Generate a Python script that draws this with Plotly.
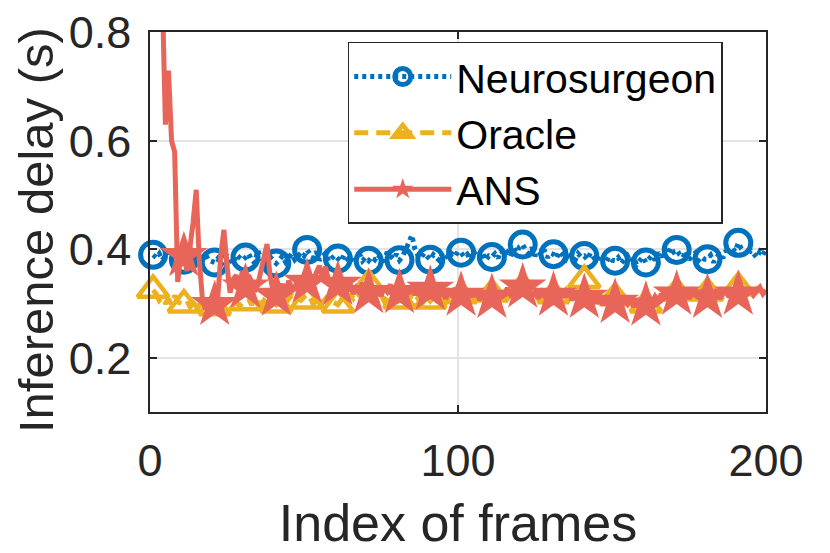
import plotly.graph_objects as go

frames = list(range(1, 201))

neurosurgeon = [
    0.390, 0.385, 0.392, 0.380, 0.388, 0.395, 0.383, 0.378, 0.386, 0.384,
    0.381, 0.376, 0.389, 0.384, 0.379, 0.372, 0.385, 0.391, 0.380, 0.377,
    0.376, 0.383, 0.371, 0.379, 0.388, 0.382, 0.374, 0.390, 0.386, 0.380,
    0.385, 0.392, 0.381, 0.375, 0.398, 0.384, 0.379, 0.372, 0.386, 0.381,
    0.374, 0.380, 0.388, 0.377, 0.385, 0.392, 0.381, 0.386, 0.394, 0.388,
    0.399, 0.391, 0.384, 0.396, 0.380, 0.387, 0.393, 0.378, 0.385, 0.389,
    0.383, 0.378, 0.390, 0.384, 0.376, 0.388, 0.382, 0.392, 0.379, 0.385,
    0.379, 0.386, 0.381, 0.390, 0.384, 0.377, 0.395, 0.388, 0.382, 0.391,
    0.380, 0.387, 0.398, 0.412, 0.426, 0.401, 0.389, 0.384, 0.393, 0.386,
    0.381, 0.390, 0.385, 0.379, 0.394, 0.388, 0.383, 0.392, 0.387, 0.396,
    0.394, 0.386, 0.391, 0.382, 0.397, 0.389, 0.384, 0.393, 0.380, 0.388,
    0.386, 0.392, 0.384, 0.398, 0.390, 0.395, 0.387, 0.401, 0.394, 0.405,
    0.409, 0.398, 0.392, 0.403, 0.388, 0.396, 0.390, 0.399, 0.385, 0.393,
    0.391, 0.384, 0.396, 0.389, 0.382, 0.394, 0.387, 0.380, 0.392, 0.386,
    0.388, 0.381, 0.393, 0.385, 0.378, 0.389, 0.383, 0.376, 0.386, 0.380,
    0.379, 0.385, 0.374, 0.382, 0.388, 0.377, 0.384, 0.372, 0.381, 0.386,
    0.376, 0.383, 0.389, 0.380, 0.394, 0.386, 0.399, 0.391, 0.403, 0.395,
    0.399, 0.390, 0.385, 0.397, 0.381, 0.388, 0.393, 0.379, 0.386, 0.382,
    0.382, 0.389, 0.376, 0.386, 0.392, 0.384, 0.398, 0.390, 0.403, 0.396,
    0.412, 0.401, 0.395, 0.388, 0.398, 0.392, 0.385, 0.396, 0.390, 0.401,
]

oracle = [
    0.325, 0.318, 0.306, 0.312, 0.300, 0.309, 0.297, 0.315, 0.303, 0.300,
    0.298, 0.305, 0.294, 0.301, 0.310, 0.296, 0.303, 0.292, 0.299, 0.306,
    0.293, 0.300, 0.307, 0.296, 0.302, 0.310, 0.298, 0.304, 0.295, 0.301,
    0.302, 0.309, 0.297, 0.313, 0.304, 0.298, 0.306, 0.300, 0.311, 0.303,
    0.298, 0.305, 0.312, 0.301, 0.308, 0.315, 0.303, 0.310, 0.306, 0.312,
    0.305, 0.311, 0.299, 0.307, 0.314, 0.302, 0.309, 0.296, 0.304, 0.301,
    0.298, 0.306, 0.313, 0.302, 0.318, 0.310, 0.321, 0.315, 0.326, 0.319,
    0.335, 0.322, 0.314, 0.308, 0.316, 0.305, 0.312, 0.301, 0.309, 0.303,
    0.305, 0.312, 0.300, 0.308, 0.315, 0.303, 0.310, 0.298, 0.306, 0.313,
    0.305, 0.311, 0.318, 0.307, 0.314, 0.302, 0.309, 0.316, 0.304, 0.312,
    0.315, 0.308, 0.320, 0.311, 0.317, 0.306, 0.313, 0.321, 0.309, 0.316,
    0.318, 0.311, 0.323, 0.314, 0.320, 0.309, 0.316, 0.325, 0.313, 0.321,
    0.330, 0.318, 0.312, 0.320, 0.308, 0.315, 0.322, 0.310, 0.317, 0.313,
    0.315, 0.322, 0.310, 0.318, 0.325, 0.313, 0.320, 0.328, 0.316, 0.324,
    0.343, 0.326, 0.315, 0.321, 0.309, 0.317, 0.305, 0.313, 0.302, 0.308,
    0.311, 0.303, 0.296, 0.305, 0.299, 0.292, 0.301, 0.295, 0.304, 0.298,
    0.298, 0.306, 0.300, 0.309, 0.303, 0.312, 0.318, 0.308, 0.315, 0.322,
    0.320, 0.313, 0.319, 0.310, 0.317, 0.324, 0.314, 0.321, 0.311, 0.318,
    0.320, 0.314, 0.322, 0.311, 0.318, 0.325, 0.316, 0.323, 0.313, 0.320,
    0.330, 0.321, 0.315, 0.323, 0.312, 0.319, 0.326, 0.316, 0.322, 0.318,
]

ans = [
    1.600, 1.350, 1.100, 0.920, 0.630, 0.730, 0.600, 0.580, 0.340, 0.390,
    0.388, 0.360, 0.400, 0.450, 0.510, 0.380, 0.310, 0.290, 0.300, 0.305,
    0.298, 0.310, 0.390, 0.436, 0.370, 0.320, 0.345, 0.352, 0.330, 0.360,
    0.330, 0.352, 0.340, 0.322, 0.335, 0.360, 0.390, 0.410, 0.350, 0.322,
    0.315, 0.328, 0.336, 0.320, 0.342, 0.331, 0.325, 0.348, 0.338, 0.330,
    0.339, 0.352, 0.344, 0.360, 0.370, 0.348, 0.368, 0.340, 0.332, 0.345,
    0.335, 0.328, 0.341, 0.322, 0.336, 0.318, 0.330, 0.325, 0.338, 0.321,
    0.320, 0.332, 0.318, 0.327, 0.314, 0.329, 0.322, 0.335, 0.317, 0.326,
    0.320, 0.313, 0.328, 0.319, 0.333, 0.316, 0.324, 0.311, 0.327, 0.318,
    0.326, 0.318, 0.331, 0.314, 0.325, 0.309, 0.322, 0.316, 0.328, 0.312,
    0.315, 0.324, 0.310, 0.321, 0.313, 0.327, 0.306, 0.319, 0.311, 0.325,
    0.311, 0.320, 0.308, 0.323, 0.314, 0.329, 0.317, 0.324, 0.312, 0.321,
    0.330, 0.318, 0.326, 0.312, 0.322, 0.309, 0.320, 0.314, 0.325, 0.310,
    0.315, 0.323, 0.309, 0.320, 0.312, 0.326, 0.306, 0.318, 0.311, 0.322,
    0.311, 0.318, 0.305, 0.315, 0.300, 0.312, 0.297, 0.309, 0.303, 0.296,
    0.302, 0.310, 0.296, 0.306, 0.299, 0.311, 0.294, 0.304, 0.298, 0.307,
    0.297, 0.308, 0.301, 0.313, 0.305, 0.318, 0.309, 0.320, 0.312, 0.322,
    0.317, 0.325, 0.314, 0.322, 0.309, 0.319, 0.326, 0.313, 0.321, 0.316,
    0.311, 0.320, 0.314, 0.326, 0.309, 0.318, 0.323, 0.312, 0.324, 0.315,
    0.317, 0.312, 0.325, 0.319, 0.328, 0.316, 0.323, 0.330, 0.318, 0.325,
]

x_ticks = [0, 100, 200]
y_ticks = [0.2, 0.4, 0.6, 0.8]
y_tick_text = ["0.2", "0.4", "0.6", "0.8"]
marker_step = 10

series = [
    dict(name="Neurosurgeon", y=neurosurgeon, color="#0072BD", dash="4px,4px",
         symbol="circle-open", size=25, mlw=5),
    dict(name="Oracle", y=oracle, color="#EDB120", dash="14px,8px",
         symbol="triangle-up-open", size=27, mlw=4.5),
    dict(name="ANS", y=ans, color="#E8655A", dash="solid",
         symbol="star", size=36, mlw=0),
]

fig = go.Figure()
for s in series:
    fig.add_trace(go.Scatter(
        x=frames, y=s["y"], mode="lines", showlegend=False,
        line=dict(color=s["color"], width=5, dash=s["dash"]),
        hoverinfo="skip"))
    fig.add_trace(go.Scatter(
        x=frames[::marker_step], y=s["y"][::marker_step], mode="markers",
        showlegend=False, cliponaxis=False,
        marker=dict(symbol=s["symbol"], size=s["size"], color=s["color"],
                    line=dict(color=s["color"], width=s["mlw"]))))
for s in series:
    fig.add_trace(go.Scatter(
        x=[None], y=[None], mode="lines+markers", name=s["name"],
        line=dict(color=s["color"], width=5, dash=s["dash"]),
        marker=dict(symbol=s["symbol"], size=s["size"], color=s["color"],
                    line=dict(color=s["color"], width=s["mlw"]))))

axis_common = dict(
    showline=True, linecolor="#262626", linewidth=1.5, mirror="ticks",
    ticks="inside", ticklen=7, tickwidth=1.5, tickcolor="#262626",
    showgrid=True, gridcolor="#e3e3e3", gridwidth=1.5, zeroline=False,
    tickfont=dict(size=45, color="#262626"), automargin=False,
    ticklabeloverflow="allow",
)

fig.update_layout(
    width=830, height=553,
    margin=dict(l=142, r=72, t=24, b=149),
    plot_bgcolor="white", paper_bgcolor="white",
    font=dict(family="Liberation Sans, Arial, sans-serif", color="#262626"),
    xaxis=dict(range=[0, 200], tickvals=x_ticks, ticklabelstandoff=8,
               title=dict(text="Index of frames", font=dict(size=52, color="#262626"),
                          standoff=20),
               **axis_common),
    yaxis=dict(range=[0.1, 0.801], tickvals=y_ticks, ticktext=y_tick_text,
               ticklabelstandoff=8, **axis_common),
    legend=dict(x=0.321, y=0.974, xanchor="left", yanchor="top",
                bgcolor="white", bordercolor="#262626", borderwidth=1.5,
                font=dict(size=41, color="#000000"), itemwidth=97,
                tracegroupgap=0),
    annotations=[dict(
        text="Inference delay (s)", textangle=-90, showarrow=False,
        xref="paper", yref="paper", x=-0.186, y=0.48,
        xanchor="center", yanchor="middle",
        font=dict(size=49, color="#262626"))],
)

fig.write_html("out.html")
